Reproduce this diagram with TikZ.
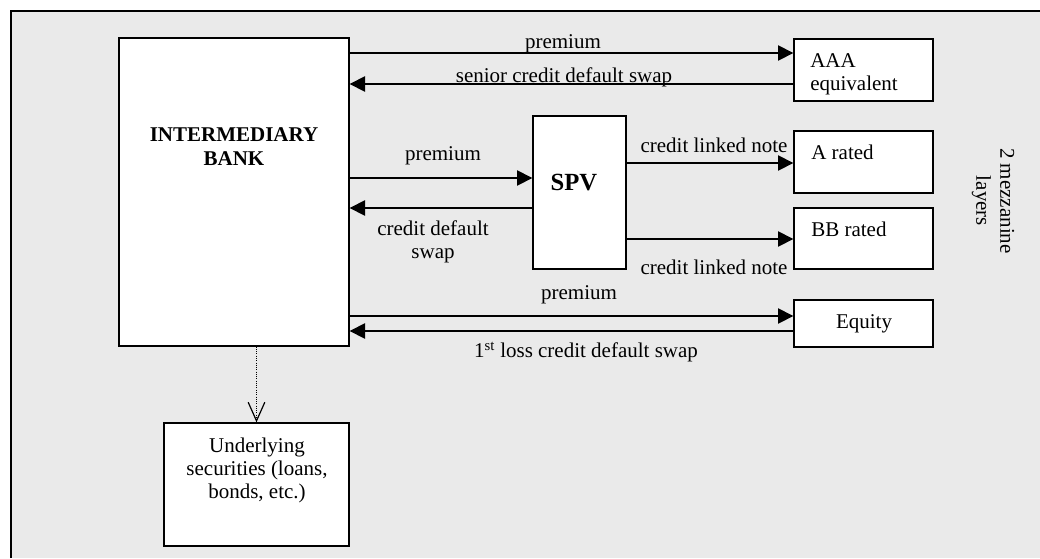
\documentclass[tikz,border=0pt]{standalone}
\usepackage{fontspec}
\setmainfont{Liberation Serif}
\usetikzlibrary{arrows.meta}
\definecolor{bggray}{RGB}{234,234,234}
\begin{document}
\begin{tikzpicture}[x=0.75pt,y=-0.75pt,
  box/.style={draw, line width=1pt, fill=white, inner sep=0pt, rectangle},
  lbl/.style={inner sep=0pt, font=\fontsize{15.75}{17.5}\selectfont},
  arr/.style={line width=1pt, -{Triangle[length=11.5pt,width=11.5pt]}},
  dotarr/.style={line width=0.7pt, densely dotted, -{Straight Barb[length=14pt,width=12.5pt,line width=0.9pt]}},
]
\useasboundingbox (0,0) rectangle (1040,558);
\fill[bggray] (11,11) rectangle (1040,558);
\draw[line width=1.5pt] (11,558) -- (11,11) -- (1040,11);

% boxes
\node[box, minimum width=172.5pt, minimum height=231pt] (bank) at (234,192) {};
\node[box, minimum width=104.25pt, minimum height=46.5pt] (aaa) at (863.5,70) {};
\node[box, minimum width=69.75pt, minimum height=114.75pt] (spv) at (579.5,192.5) {};
\node[box, minimum width=104.25pt, minimum height=46.5pt] (arated) at (863.5,162) {};
\node[box, minimum width=104.25pt, minimum height=45.75pt] (bbrated) at (863.5,238.5) {};
\node[box, minimum width=104.25pt, minimum height=35.25pt] (equity) at (863.5,323.5) {};
\node[box, minimum width=138.75pt, minimum height=92.25pt] (under) at (256.5,484.5) {};

% box texts
\node[lbl, align=center, font=\fontsize{15.75}{18}\selectfont\bfseries] (banktxt) at (234,147) {INTERMEDIARY\\BANK};
\node[lbl, align=left, anchor=west, font=\fontsize{15.75}{17.25}\selectfont] (aaatxt) at (810,74) {AAA\\equivalent};
\node[lbl, anchor=base, font=\fontsize{18.5}{20}\selectfont\bfseries] (spvtxt) at (574,190) {SPV};
\node[lbl, anchor=base west] (atxt) at (811,159) {A rated};
\node[lbl, anchor=base west] (bbtxt) at (811,236) {BB rated};
\node[lbl, anchor=base] (eqtxt) at (864,328) {Equity};
\node[lbl, align=center, font=\fontsize{15.75}{17.25}\selectfont] (undertxt) at (257,470) {Underlying\\securities (loans,\\bonds, etc.)};
\node[lbl, align=center, rotate=-90, font=\fontsize{15.75}{18}\selectfont] (mezz) at (993,201) {2 mezzanine\\layers};

% connectors
\draw[arr] (bank.east |- 0,53) -- (aaa.west |- 0,53);
\draw[arr] (aaa.west |- 0,84) -- (bank.east |- 0,84);
\draw[arr] (bank.east |- 0,178) -- (spv.west |- 0,178);
\draw[arr] (spv.west |- 0,208) -- (bank.east |- 0,208);
\draw[arr] (spv.east |- 0,163) -- (arated.west |- 0,163);
\draw[arr] (spv.east |- 0,239) -- (bbrated.west |- 0,239);
\draw[arr] (bank.east |- 0,316) -- (equity.west |- 0,316);
\draw[arr] (equity.west |- 0,331) -- (bank.east |- 0,331);
\draw[dotarr] (bank.south -| under.north) -- (under.north);

% connector labels
\node[lbl, anchor=base] (l1) at (563,48) {premium};
\node[lbl, anchor=base] (l2) at (564,82) {senior credit default swap};
\node[lbl, anchor=base] (l3) at (443,160) {premium};
\node[lbl, align=center, font=\fontsize{15.75}{17.25}\selectfont] (l4) at (433,242) {credit default\\swap};
\node[lbl, anchor=base] (l5) at (714,152) {credit linked note};
\node[lbl, anchor=base] (l6) at (714,274) {credit linked note};
\node[lbl, anchor=base] (l7) at (579,299) {premium};
\node[lbl, anchor=base] (l8) at (586,357) {1\textsuperscript{st} loss credit default swap};
\end{tikzpicture}
\end{document}
